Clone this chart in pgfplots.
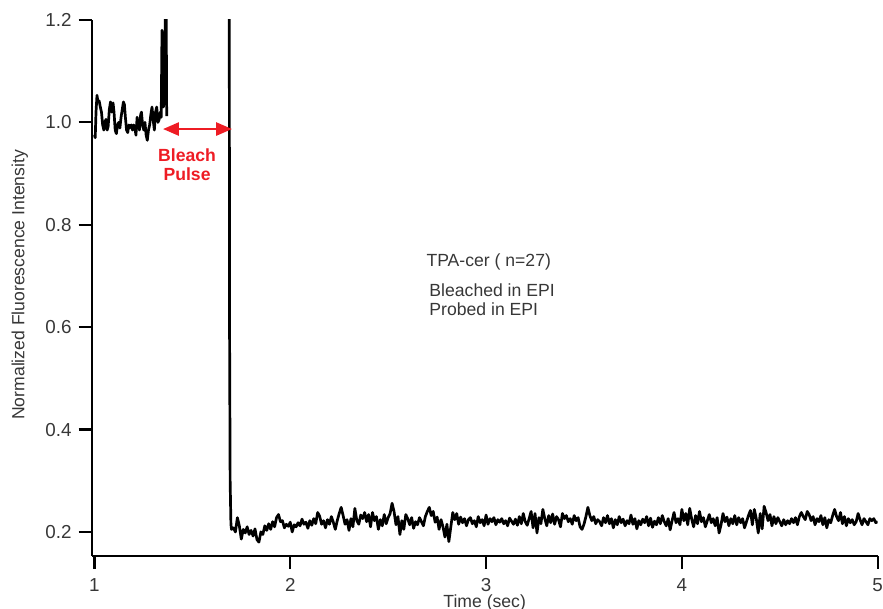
\documentclass[border=0pt]{standalone}
\usepackage{fontspec}
\setmainfont{Liberation Sans}
\usepackage{pgfplots}
\pgfplotsset{compat=1.18}
\usetikzlibrary{arrows.meta}
\definecolor{pulsered}{RGB}{238,28,36}
\definecolor{labelgray}{RGB}{55,55,55}

\begin{document}
\begin{tikzpicture}
\useasboundingbox (-45.85pt,-26.5pt) rectangle (395.65pt,278pt);
\begin{axis}[
  at={(0,0)}, anchor=south west,
  scale only axis,
  width=393pt, height=268pt,
  xmin=0.986, xmax=5, ymin=0.153, ymax=1.2,
  axis x line*=bottom, axis y line*=left,
  axis line style={line width=1.1pt, -},
  xtick={1,2,3,4,5},
  ytick={0.2,0.4,0.6,0.8,1.0,1.2},
  minor tick num=0,
  tick align=outside,
  major tick length=6.5pt,
  tick style={line width=1.1pt, black},
  yticklabel style={/pgf/number format/.cd, fixed, fixed zerofill, precision=1},
  xticklabel style={yshift=-1.2pt},
  /pgf/number format/assume math mode=true,
  ticklabel style={font=\fontsize{9.4}{11}\selectfont, text=labelgray},
  xlabel={Time (sec)},
  ylabel={Normalized Fluorescence Intensity},
  label style={font=\fontsize{8.8}{10}\selectfont, text=labelgray},
  xlabel style={at={(axis description cs:0.5,-0.088)}, anchor=center},
  ylabel style={at={(axis description cs:-0.0916,0.506)}, anchor=center},
  clip=true,
]
% pre-bleach baseline
\addplot[black, line width=1.35pt, line join=round] table {
1.000 0.975
1.004 0.970
1.008 1.020
1.013 1.053
1.018 1.040
1.024 1.042
1.030 1.030
1.036 1.020
1.042 0.995
1.048 0.985
1.053 1.000
1.059 1.006
1.065 0.985
1.070 0.992
1.076 1.025
1.082 1.040
1.088 1.020
1.095 1.038
1.100 1.020
1.106 0.985
1.112 0.978
1.118 0.995
1.124 1.000
1.130 0.989
1.136 1.010
1.142 1.025
1.148 1.040
1.153 1.035
1.158 1.010
1.164 0.985
1.170 0.980
1.176 0.995
1.182 0.990
1.188 0.995
1.194 0.985
1.200 0.995
1.206 0.990
1.212 0.975
1.218 1.010
1.224 0.998
1.230 0.985
1.236 1.015
1.240 1.020
1.246 0.995
1.252 0.985
1.258 1.000
1.264 0.975
1.270 0.965
1.276 0.985
1.282 0.995
1.288 1.015
1.294 1.030
1.300 1.005
1.306 0.985
1.312 1.020
1.318 1.030
1.324 1.000
1.330 1.005
1.336 1.020
1.341 1.010
1.345 1.180
1.348 1.170
1.352 1.030
1.356 1.040
1.360 1.120
1.363 1.250
1.366 1.250
1.369 1.012
};
% after bleach
\addplot[black, line width=1.35pt, line join=round] table {
1.688 1.500
1.690 0.600
1.693 0.300
1.697 0.215
1.70 0.205
1.71 0.208
1.72 0.200
1.73 0.228
1.74 0.212
1.75 0.186
1.76 0.205
1.77 0.198
1.78 0.210
1.79 0.195
1.80 0.203
1.81 0.192
1.82 0.206
1.83 0.185
1.84 0.180
1.85 0.200
1.86 0.195
1.87 0.212
1.88 0.203
1.89 0.216
1.90 0.205
1.91 0.220
1.92 0.210
1.93 0.228
1.94 0.234
1.95 0.220
1.96 0.222
1.97 0.208
1.98 0.215
1.99 0.211
2.00 0.219
2.01 0.200
2.02 0.214
2.03 0.210
2.04 0.218
2.05 0.212
2.06 0.225
2.07 0.215
2.08 0.219
2.09 0.207
2.10 0.222
2.11 0.213
2.12 0.226
2.13 0.216
2.14 0.238
2.15 0.231
2.16 0.215
2.17 0.222
2.18 0.208
2.19 0.224
2.20 0.215
2.21 0.230
2.22 0.219
2.23 0.205
2.24 0.222
2.25 0.236
2.26 0.248
2.27 0.232
2.28 0.215
2.29 0.224
2.30 0.203
2.31 0.226
2.32 0.210
2.33 0.246
2.34 0.222
2.35 0.215
2.36 0.233
2.37 0.226
2.38 0.238
2.39 0.220
2.40 0.234
2.41 0.210
2.42 0.238
2.43 0.222
2.44 0.230
2.45 0.205
2.46 0.224
2.47 0.212
2.48 0.234
2.49 0.216
2.50 0.228
2.51 0.236
2.52 0.256
2.53 0.240
2.54 0.214
2.55 0.230
2.56 0.195
2.57 0.222
2.58 0.205
2.59 0.234
2.60 0.226
2.61 0.214
2.62 0.228
2.63 0.207
2.64 0.220
2.65 0.214
2.66 0.228
2.67 0.220
2.68 0.212
2.69 0.230
2.70 0.240
2.71 0.248
2.72 0.232
2.73 0.240
2.74 0.219
2.75 0.229
2.76 0.205
2.77 0.224
2.78 0.210
2.79 0.190
2.80 0.215
2.81 0.181
2.82 0.210
2.83 0.238
2.84 0.224
2.85 0.236
2.86 0.215
2.87 0.229
2.88 0.218
2.89 0.226
2.90 0.212
2.91 0.224
2.92 0.228
2.93 0.216
2.94 0.222
2.95 0.210
2.96 0.230
2.97 0.218
2.98 0.224
2.99 0.212
3.00 0.233
3.01 0.215
3.02 0.226
3.03 0.220
3.04 0.228
3.05 0.214
3.06 0.224
3.07 0.219
3.08 0.226
3.09 0.216
3.10 0.222
3.11 0.212
3.12 0.227
3.13 0.221
3.14 0.215
3.15 0.225
3.16 0.213
3.17 0.230
3.18 0.216
3.19 0.236
3.20 0.220
3.21 0.213
3.22 0.226
3.23 0.240
3.24 0.208
3.25 0.236
3.26 0.198
3.27 0.228
3.28 0.216
3.29 0.244
3.30 0.226
3.31 0.212
3.32 0.232
3.33 0.218
3.34 0.235
3.35 0.215
3.36 0.230
3.37 0.224
3.38 0.210
3.39 0.236
3.40 0.226
3.41 0.232
3.42 0.220
3.43 0.226
3.44 0.215
3.45 0.232
3.46 0.222
3.47 0.228
3.48 0.210
3.49 0.205
3.50 0.215
3.51 0.230
3.52 0.248
3.53 0.232
3.54 0.222
3.55 0.230
3.56 0.216
3.57 0.224
3.58 0.220
3.59 0.212
3.60 0.228
3.61 0.218
3.62 0.232
3.63 0.216
3.64 0.226
3.65 0.208
3.66 0.224
3.67 0.214
3.68 0.230
3.69 0.218
3.70 0.225
3.71 0.212
3.72 0.222
3.73 0.216
3.74 0.233
3.75 0.215
3.76 0.226
3.77 0.206
3.78 0.222
3.79 0.214
3.80 0.225
3.81 0.218
3.82 0.230
3.83 0.212
3.84 0.227
3.85 0.209
3.86 0.221
3.87 0.214
3.88 0.228
3.89 0.216
3.90 0.232
3.91 0.220
3.92 0.212
3.93 0.226
3.94 0.204
3.95 0.222
3.96 0.238
3.97 0.218
3.98 0.226
3.99 0.214
4.00 0.244
4.01 0.222
4.02 0.236
4.03 0.214
4.04 0.246
4.05 0.225
4.06 0.210
4.07 0.232
4.08 0.216
4.09 0.240
4.10 0.220
4.11 0.228
4.12 0.210
4.13 0.222
4.14 0.234
4.15 0.218
4.16 0.226
4.17 0.212
4.18 0.228
4.19 0.198
4.20 0.214
4.21 0.236
4.22 0.220
4.23 0.229
4.24 0.212
4.25 0.226
4.26 0.216
4.27 0.232
4.28 0.214
4.29 0.228
4.30 0.218
4.31 0.226
4.32 0.208
4.33 0.220
4.34 0.232
4.35 0.242
4.36 0.214
4.37 0.244
4.38 0.226
4.39 0.198
4.40 0.236
4.41 0.206
4.42 0.250
4.43 0.238
4.44 0.222
4.45 0.234
4.46 0.212
4.47 0.230
4.48 0.216
4.49 0.228
4.50 0.220
4.51 0.212
4.52 0.224
4.53 0.214
4.54 0.222
4.55 0.216
4.56 0.226
4.57 0.218
4.58 0.228
4.59 0.214
4.60 0.230
4.61 0.238
4.62 0.230
4.63 0.224
4.64 0.240
4.65 0.234
4.66 0.222
4.67 0.230
4.68 0.214
4.69 0.226
4.70 0.220
4.71 0.232
4.72 0.214
4.73 0.228
4.74 0.208
4.75 0.224
4.76 0.218
4.77 0.232
4.78 0.244
4.79 0.230
4.80 0.222
4.81 0.238
4.82 0.216
4.83 0.230
4.84 0.212
4.85 0.226
4.86 0.218
4.87 0.224
4.88 0.214
4.89 0.220
4.90 0.236
4.91 0.224
4.92 0.214
4.93 0.226
4.94 0.220
4.95 0.214
4.96 0.226
4.97 0.222
4.98 0.226
4.99 0.218
5.00 0.220
};
% bleach pulse annotation
\draw[pulsered, line width=1.3pt, {Triangle[length=8pt,width=6.5pt]}-{Triangle[length=8pt,width=6.5pt]}]
  (axis cs:1.350,0.987) -- (axis cs:1.703,0.987);
\node[text=pulsered, font=\fontsize{8.8}{9.6}\selectfont\bfseries, align=center, inner sep=0pt]
  at (axis cs:1.473,0.917) {Bleach\\Pulse};
\node[anchor=west, inner sep=0pt, text=labelgray, font=\fontsize{8.8}{10}\selectfont]
  at (axis cs:2.694,0.727) {TPA-cer ( n=27)};
\node[anchor=west, inner sep=0pt, text=labelgray, font=\fontsize{8.8}{10}\selectfont]
  at (axis cs:2.709,0.673) {Bleached in EPI};
\node[anchor=west, inner sep=0pt, text=labelgray, font=\fontsize{8.8}{10}\selectfont]
  at (axis cs:2.709,0.636) {Probed in EPI};
\end{axis}
\end{tikzpicture}
\end{document}
